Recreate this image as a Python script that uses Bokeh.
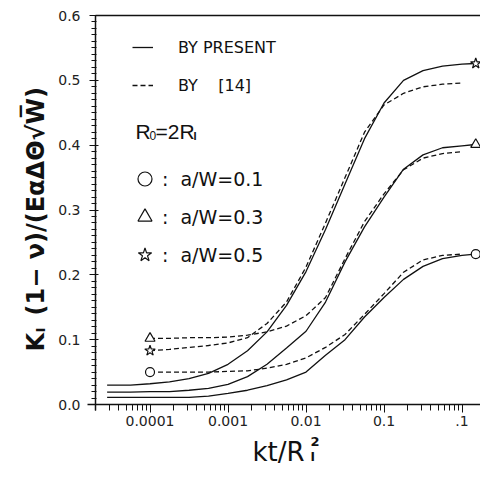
import math
from bokeh.plotting import figure
from bokeh.models import (Range1d, FixedTicker, PrintfTickFormatter,
                          CustomJSTickFormatter, LogAxis, Label, Legend, LegendItem)
from bokeh.embed import file_html
from bokeh.resources import INLINE

# ---------------- data ----------------
# x positions are given as log10(kt / R_I^2)
LOG_KT_PRESENT = [-4.55, -4.25, -4.0, -3.75, -3.5, -3.25, -3.0, -2.75, -2.5, -2.25,
                  -2.0, -1.75, -1.5, -1.25, -1.0, -0.75, -0.5, -0.25, 0.0, 0.17]
K_PRESENT_01 = [0.011, 0.011, 0.011, 0.011, 0.011, 0.013, 0.017, 0.022, 0.029, 0.038,
                0.050, 0.076, 0.100, 0.135, 0.165, 0.193, 0.213, 0.225, 0.230, 0.232]
K_PRESENT_03 = [0.019, 0.019, 0.020, 0.020, 0.022, 0.025, 0.031, 0.043, 0.062, 0.087,
                0.113, 0.158, 0.220, 0.274, 0.320, 0.363, 0.385, 0.396, 0.399, 0.401]
K_PRESENT_05 = [0.030, 0.030, 0.032, 0.035, 0.040, 0.048, 0.062, 0.083, 0.112, 0.153,
                0.205, 0.270, 0.340, 0.410, 0.465, 0.500, 0.515, 0.522, 0.525, 0.526]

LOG_KT_REF = [-4.0, -3.75, -3.5, -3.25, -3.0, -2.75, -2.5, -2.25, -2.0, -1.75,
              -1.5, -1.25, -1.0, -0.75, -0.5, -0.25, 0.0]
K_REF_01 = [0.050, 0.050, 0.050, 0.050, 0.051, 0.052, 0.056, 0.062, 0.072, 0.088,
            0.108, 0.139, 0.171, 0.204, 0.223, 0.230, 0.232]
K_REF_03 = [0.102, 0.102, 0.103, 0.103, 0.104, 0.107, 0.112, 0.121, 0.137, 0.165,
            0.225, 0.282, 0.325, 0.362, 0.380, 0.387, 0.390]
K_REF_05 = [0.083, 0.085, 0.088, 0.091, 0.095, 0.103, 0.125, 0.158, 0.212, 0.280,
            0.350, 0.420, 0.462, 0.480, 0.490, 0.494, 0.496]

MARK_KT = [0.0001, 1.5]
MARK_01 = [0.050, 0.232]
MARK_03 = [0.102, 0.401]
MARK_05 = [0.083, 0.526]

X_TICKS = [0.0001, 0.001, 0.01, 0.1, 1.0]
X_TICK_LABELS = ["0.0001", "0.001", "0.01", "0.1", ".1"]
Y_TICKS = [0.0, 0.1, 0.2, 0.3, 0.4, 0.5, 0.6]
X_AXIS_SPAN = (2e-5, 1.73)
Y_AXIS_SPAN = (0.0, 0.6)

SERIES_LABELS = [":  a/W=0.1", ":  a/W=0.3", ":  a/W=0.5"]

FONT = "DejaVu Sans"
INK = "#111111"

# ---------------- layout geometry (pixels) ----------------
W, H = 480, 466
AX_X = 95        # canvas x of the y axis (x = 2e-5)
AX_Y0 = 404      # canvas y (from top) of y = 0
AX_Y1 = 15       # canvas y (from top) of y = 0.6
DEC = 78.0       # pixels per decade

lx0 = math.log10(X_AXIS_SPAN[0])
x_lo = 10 ** (lx0 - AX_X / DEC)
x_hi = 10 ** (lx0 + (W - AX_X) / DEC)
upp = (Y_AXIS_SPAN[1] - Y_AXIS_SPAN[0]) / (AX_Y0 - AX_Y1)
y_lo = Y_AXIS_SPAN[0] - (H - AX_Y0) * upp
y_hi = Y_AXIS_SPAN[1] + AX_Y1 * upp

kt_present = [10 ** v for v in LOG_KT_PRESENT]
kt_ref = [10 ** v for v in LOG_KT_REF]

p = figure(width=W, height=H, x_axis_type="log",
           x_range=Range1d(x_lo, x_hi), y_range=Range1d(y_lo, y_hi),
           output_backend="svg", toolbar_location=None, min_border=0)
p.xgrid.visible = False
p.ygrid.visible = False
p.outline_line_color = None

r_s1 = p.line(kt_present, K_PRESENT_01, line_color=INK, line_width=1.3)
r_s3 = p.line(kt_present, K_PRESENT_03, line_color=INK, line_width=1.3)
r_s5 = p.line(kt_present, K_PRESENT_05, line_color=INK, line_width=1.3)
r_d1 = p.line(kt_ref, K_REF_01, line_color=INK, line_width=1.3, line_dash="5 3")
r_d3 = p.line(kt_ref, K_REF_03, line_color=INK, line_width=1.3, line_dash="5 3")
r_d5 = p.line(kt_ref, K_REF_05, line_color=INK, line_width=1.3, line_dash="5 3")

m1 = p.scatter(MARK_KT, MARK_01, marker="circle", size=9, fill_color="white",
               line_color=INK, line_width=1.2)
m3 = p.scatter(MARK_KT, MARK_03, marker="triangle", size=10, fill_color="white",
               line_color=INK, line_width=1.2)
m5 = p.scatter(MARK_KT, MARK_05, marker="star", size=11, fill_color="white",
               line_color=INK, line_width=1.2)

# x axis (drawn at y = 0 inside the canvas)
xa = p.xaxis[0]
xa.fixed_location = Y_AXIS_SPAN[0]
xa.bounds = (1.6e-5, X_AXIS_SPAN[1])
xa.ticker = FixedTicker(ticks=X_TICKS,
                        minor_ticks=[k * 10.0 ** d for d in range(-5, 1) for k in range(2, 10)])
xa.formatter = CustomJSTickFormatter(args=dict(t=X_TICKS, l=X_TICK_LABELS), code="""
    for (let i = 0; i < t.length; i++) {
        if (Math.abs(Math.log10(tick) - Math.log10(t[i])) < 1e-6) return l[i];
    }
    return "";
""")
xa.axis_line_width = 1.5
xa.axis_line_color = INK
xa.major_tick_out = 8
xa.major_tick_in = 0
xa.minor_tick_out = 6
xa.minor_tick_in = 0
xa.major_tick_line_color = INK
xa.minor_tick_line_color = INK
xa.major_label_text_font = FONT
xa.major_label_text_font_size = "14px"
xa.major_label_text_color = "#222222"
xa.major_label_standoff = 3

# y axis (drawn at x = 2e-5)
ya = p.yaxis[0]
ya.fixed_location = X_AXIS_SPAN[0]
ya.bounds = (-0.009, Y_AXIS_SPAN[1])
ya.ticker = FixedTicker(ticks=Y_TICKS, minor_ticks=[i / 100 for i in range(61)])
ya.formatter = PrintfTickFormatter(format="%.1f")
ya.axis_line_width = 1.5
ya.axis_line_color = INK
ya.major_tick_out = 6
ya.major_tick_in = 3
ya.minor_tick_out = 4
ya.minor_tick_in = 1
ya.major_tick_line_color = INK
ya.minor_tick_line_color = INK
ya.major_label_text_font = FONT
ya.major_label_text_font_size = "14px"
ya.major_label_text_color = "#222222"
ya.major_label_standoff = 9

# top frame line
top = LogAxis(ticker=FixedTicker(ticks=[]), major_label_text_font_size="0px",
              major_tick_out=0, major_tick_in=0, minor_tick_out=0, minor_tick_in=0,
              major_label_standoff=0, axis_line_width=1.5, axis_line_color=INK,
              fixed_location=Y_AXIS_SPAN[1], bounds=(X_AXIS_SPAN[0], x_hi))
p.add_layout(top, "above")


def lab(text, x, y_top, size, font=FONT, bold=False, angle=0.0):
    """x, y_top: canvas pixels measured from the top-left corner."""
    p.add_layout(Label(x=x, y=H - y_top, x_units="screen", y_units="screen", text=text,
                       angle=angle, text_font=font, text_font_size=size,
                       text_font_style="bold" if bold else "normal",
                       text_color=INK, text_align="left", text_baseline="alphabetic"))


# y axis title
lab("K", 35, 351, "24px", bold=True, angle=math.pi / 2)
lab("I", 40, 332, "13px", bold=True, angle=math.pi / 2)
lab("(1\u2212 \u03bd)/(E\u03b1\u0394\u0398\u221aW\u0305)", 35, 315, "24px", bold=True,
    angle=math.pi / 2)

# x axis title
lab("kt/R", 252, 451, "26px")
lab("2", 310, 441, "13px", bold=True)
lab("I", 310, 456, "12px", bold=True)

# R0 = 2 R_I annotation
lab("R", 135, 131, "21px", font="Liberation Sans")
lab("0", 149, 135, "12px", font="Liberation Sans")
lab("=2R", 155, 131, "21px", font="Liberation Sans")
lab("I", 193, 135, "11px", font="Liberation Sans", bold=True)

leg1 = Legend(items=[LegendItem(label="BY PRESENT", renderers=[r_s5]),
                     LegendItem(label="BY\u00a0\u00a0\u00a0\u00a0[14]", renderers=[r_d5])],
              location=(132, 371), orientation="vertical",
              glyph_width=21, glyph_height=20, label_height=20, spacing=18,
              label_standoff=25, padding=0, margin=0,
              border_line_color=None, background_fill_alpha=0,
              label_text_font=FONT, label_text_font_size="16px", label_text_color=INK)
p.add_layout(leg1, "center")

leg2 = Legend(items=[LegendItem(label=SERIES_LABELS[0], renderers=[m1]),
                     LegendItem(label=SERIES_LABELS[1], renderers=[m3]),
                     LegendItem(label=SERIES_LABELS[2], renderers=[m5])],
              location=(127, 194), orientation="vertical",
              glyph_width=35, glyph_height=35, label_height=35, spacing=3,
              label_standoff=-6, padding=0, margin=0,
              border_line_color=None, background_fill_alpha=0,
              label_text_font=FONT, label_text_font_size="19px", label_text_color=INK)
p.add_layout(leg2, "center")

open("out.html", "w").write(file_html(p, INLINE))
